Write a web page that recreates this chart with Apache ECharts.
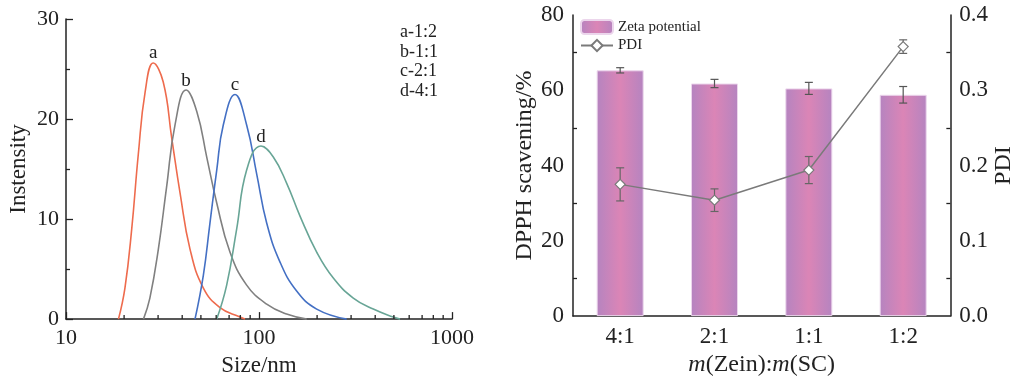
<!DOCTYPE html>
<html>
<head>
<meta charset="utf-8">
<script src="https://cdn.jsdelivr.net/npm/echarts@6/dist/echarts.min.js"></script>
<style>html,body{margin:0;padding:0;background:#fff;}#c{width:1017px;height:382px;}</style>
</head>
<body>
<div id="c"></div>
<script>
// ---------- Left chart data (size distribution) ----------
const curveA = [[18.7,0],[20.2,3.1],[21.9,9.0],[23.7,16.5],[25.7,22.7],[28.3,25.6],[31.9,23.7],[35.3,18.1],[39.0,12.6],[43.9,7.0],[51.5,3.1],[62.8,1.15],[79.7,0.2],[84.6,0]];
const curveB = [[25.2,0],[27.2,2.1],[30.1,7.0],[33.2,13.2],[36.7,19.4],[41.9,22.9],[47.6,20.75],[53.6,16.2],[60.4,11.6],[70.7,6.7],[86.3,3.4],[109.6,1.5],[139,0.5],[176.7,0]];
const curveC = [[46.6,0],[51.5,4.4],[55.7,9.6],[60.4,14.9],[65.3,19.4],[75.1,22.45],[86.3,19.4],[97.3,14.5],[109.6,9.6],[128.5,5.7],[156.7,2.8],[199,1.0],[284.6,0]];
const curveD = [[60.4,0],[68.0,3.4],[76.6,9.0],[86.3,14.9],[102.4,17.3],[118.6,16.2],[139,13.6],[163.1,10.3],[199,6.7],[242.7,4.1],[308,2.1],[391,1.0],[496.5,0.2],[538,0]];
const curveNames = ['a','b','c','d'];
const legendLabels = ['a-1:2','b-1:1','c-2:1','d-4:1'];
const minorSizeTicks = [20,30,40,50,60,70,80,90,200,300,400,500,600,700,800,900];

// ---------- Right chart data ----------
const ratios = ['4:1','2:1','1:1','1:2'];
const zetaValues = [65.3, 61.8, 60.5, 58.8];
const zetaErrors = [0.7, 1.1, 1.6, 2.2];
const pdiValues = [0.175, 0.154, 0.194, 0.358];
const pdiErrors = [0.022, 0.015, 0.018, 0.009];

const FONT = 'Liberation Serif';
const curveColors = ['#ee6b4d', '#808080', '#4470c4', '#68a596'];
const curves = [curveA, curveB, curveC, curveD];

function peakIndex(arr){ let m=0; arr.forEach((p,i)=>{ if(p[1]>arr[m][1]) m=i; }); return m; }

const lineSeries = curves.map((c, k) => {
  const pi = peakIndex(c);
  return {
    type: 'line', xAxisIndex: 0, yAxisIndex: 0, smooth: 0.45,
    symbol: 'circle', symbolSize: 0, showSymbol: true, showAllSymbol: true,
    itemStyle: {color: curveColors[k], opacity: 0},
    lineStyle: {color: curveColors[k], width: 1.6},
    label: {show: false},
    data: c.map((p, i) => i === pi ? {value: p, label: {show: true, formatter: curveNames[k], position: 'top', distance: 0, fontFamily: FONT, fontSize: 19, color: '#222', opacity: 1}} : p),
    z: 3
  };
});

const barGrad = new echarts.graphic.LinearGradient(0, 0, 1, 0, [
  {offset: 0, color: '#b584c0'},
  {offset: 0.5, color: '#db85b6'},
  {offset: 1, color: '#b584c0'}
]);

function errRender(color, capW){
  return function(params, api){
    const x = api.value(0), y = api.value(1), e = api.value(2);
    const t = api.coord([x, y + e]), b = api.coord([x, y - e]);
    const st = {stroke: color, lineWidth: 1.2};
    return {type: 'group', children: [
      {type: 'line', shape: {x1: t[0], y1: t[1], x2: b[0], y2: b[1]}, style: st},
      {type: 'line', shape: {x1: t[0]-capW, y1: t[1], x2: t[0]+capW, y2: t[1]}, style: st},
      {type: 'line', shape: {x1: b[0]-capW, y1: b[1], x2: b[0]+capW, y2: b[1]}, style: st}
    ]};
  };
}

const option = {
  animation: false,
  backgroundColor: '#fff',
  textStyle: {fontFamily: FONT},
  grid: [
    {left: 66, top: 19, width: 386, height: 306},
    {left: 573, top: 15, width: 382, height: 308}
  ],
  legend: {
    left: 580, top: 19, orient: 'vertical', itemWidth: 32, itemHeight: 14, itemGap: 3, padding: 0,
    data: ['Zeta potential', 'PDI'],
    textStyle: {fontFamily: FONT, fontSize: 15, color: '#222'}
  },
  graphic: legendLabels.map((t, i) => ({
    type: 'text', left: 400, top: 23 + i * 19.8,
    style: {text: t, font: '18px "Liberation Serif"', fill: '#222'}
  })),
  xAxis: [
    {type: 'log', gridIndex: 0, logBase: 10, min: 10, max: 1000,
     name: 'Size/nm', nameLocation: 'middle', nameGap: 31,
     nameTextStyle: {fontFamily: FONT, fontSize: 23, color: '#222'},
     axisLine: {onZero: false, lineStyle: {color: '#222', width: 1.5}},
     axisTick: {inside: true, length: 7, lineStyle: {color: '#222', width: 1.3}},
     axisLabel: {fontFamily: FONT, fontSize: 22, color: '#222', margin: 8, formatter: v => String(Math.round(v))},
     splitLine: {show: false}},
    {type: 'category', gridIndex: 1, data: ratios,
     name: '{i|m}(Zein):{i|m}(SC)', nameLocation: 'middle', nameGap: 33,
     nameTextStyle: {fontFamily: FONT, fontSize: 24, color: '#222', rich: {i: {fontFamily: FONT, fontSize: 24, fontStyle: 'italic', color: '#222'}}},
     axisLine: {onZero: false, lineStyle: {color: '#222', width: 1.5}},
     axisTick: {inside: true, alignWithLabel: true, length: 7, lineStyle: {color: '#222', width: 1.3}},
     axisLabel: {fontFamily: FONT, fontSize: 23, color: '#222', margin: 9}},
    {type: 'category', gridIndex: 1, data: ratios, position: 'bottom',
     axisLine: {show: false},
     axisTick: {inside: true, length: 5, lineStyle: {color: '#222', width: 1.3}},
     axisLabel: {show: false}}
  ],
  yAxis: [
    {type: 'value', gridIndex: 0, min: 0, max: 30, interval: 10,
     name: 'Instensity', nameLocation: 'middle', nameGap: 36,
     nameTextStyle: {fontFamily: FONT, fontSize: 23, color: '#222'},
     axisLine: {show: true, onZero: false, lineStyle: {color: '#222', width: 1.5}},
     axisTick: {inside: true, length: 7, lineStyle: {color: '#222', width: 1.3}},
     minorTick: {show: true, splitNumber: 2, length: 4, lineStyle: {color: '#222', width: 1.3}},
     axisLabel: {fontFamily: FONT, fontSize: 22, color: '#222', margin: 7},
     splitLine: {show: false}},
    {type: 'value', gridIndex: 1, min: 0, max: 80, interval: 20,
     name: 'DPPH scavening/%', nameLocation: 'middle', nameGap: 34,
     nameTextStyle: {fontFamily: FONT, fontSize: 24, color: '#222'},
     axisLine: {show: true, onZero: false, lineStyle: {color: '#222', width: 1.5}},
     axisTick: {inside: true, length: 7, lineStyle: {color: '#222', width: 1.3}},
     minorTick: {show: true, splitNumber: 2, length: 4, lineStyle: {color: '#222', width: 1.3}},
     axisLabel: {fontFamily: FONT, fontSize: 23, color: '#222', margin: 9},
     splitLine: {show: false}},
    {type: 'value', gridIndex: 1, min: 0, max: 0.4, interval: 0.1, position: 'right',
     name: 'PDI', nameLocation: 'middle', nameGap: 38,
     nameTextStyle: {fontFamily: FONT, fontSize: 24, color: '#222'},
     axisLine: {show: true, onZero: false, lineStyle: {color: '#222', width: 1.5}},
     axisTick: {inside: true, length: 7, lineStyle: {color: '#222', width: 1.3}},
     minorTick: {show: true, splitNumber: 2, length: 4, lineStyle: {color: '#222', width: 1.3}},
     axisLabel: {fontFamily: FONT, fontSize: 23, color: '#222', margin: 9, formatter: v => v.toFixed(1)},
     splitLine: {show: false}}
  ],
  series: [
    ...lineSeries,
    {type: 'custom', xAxisIndex: 0, yAxisIndex: 0, silent: true, z: 5,
     data: minorSizeTicks.map(v => [v, 0]),
     renderItem: function(params, api){
       const p = api.coord([api.value(0), 0]);
       return {type: 'line', shape: {x1: p[0], y1: p[1], x2: p[0], y2: p[1] - 4}, style: {stroke: '#222', lineWidth: 1.3}};
     }},
    {name: 'Zeta potential', type: 'bar', xAxisIndex: 1, yAxisIndex: 1, barWidth: 47,
     data: zetaValues,
     itemStyle: {color: barGrad, borderColor: '#ecd6ec', borderWidth: 1}},
    {type: 'custom', xAxisIndex: 1, yAxisIndex: 1, z: 4, silent: true,
     data: zetaValues.map((v, i) => [i, v, zetaErrors[i]]),
     renderItem: errRender('#555', 4)},
    {type: 'custom', xAxisIndex: 1, yAxisIndex: 2, z: 4, silent: true,
     data: pdiValues.map((v, i) => [i, v, pdiErrors[i]]),
     renderItem: errRender('#666', 4)},
    {name: 'PDI', type: 'line', xAxisIndex: 1, yAxisIndex: 2, data: pdiValues,
     symbol: 'diamond', symbolSize: 10, z: 6,
     lineStyle: {color: '#7a7a7a', width: 1.5},
     itemStyle: {color: '#fff', borderColor: '#7a7a7a', borderWidth: 1.2}}
  ]
};

echarts.init(document.getElementById('c')).setOption(option);
</script>
</body>
</html>
